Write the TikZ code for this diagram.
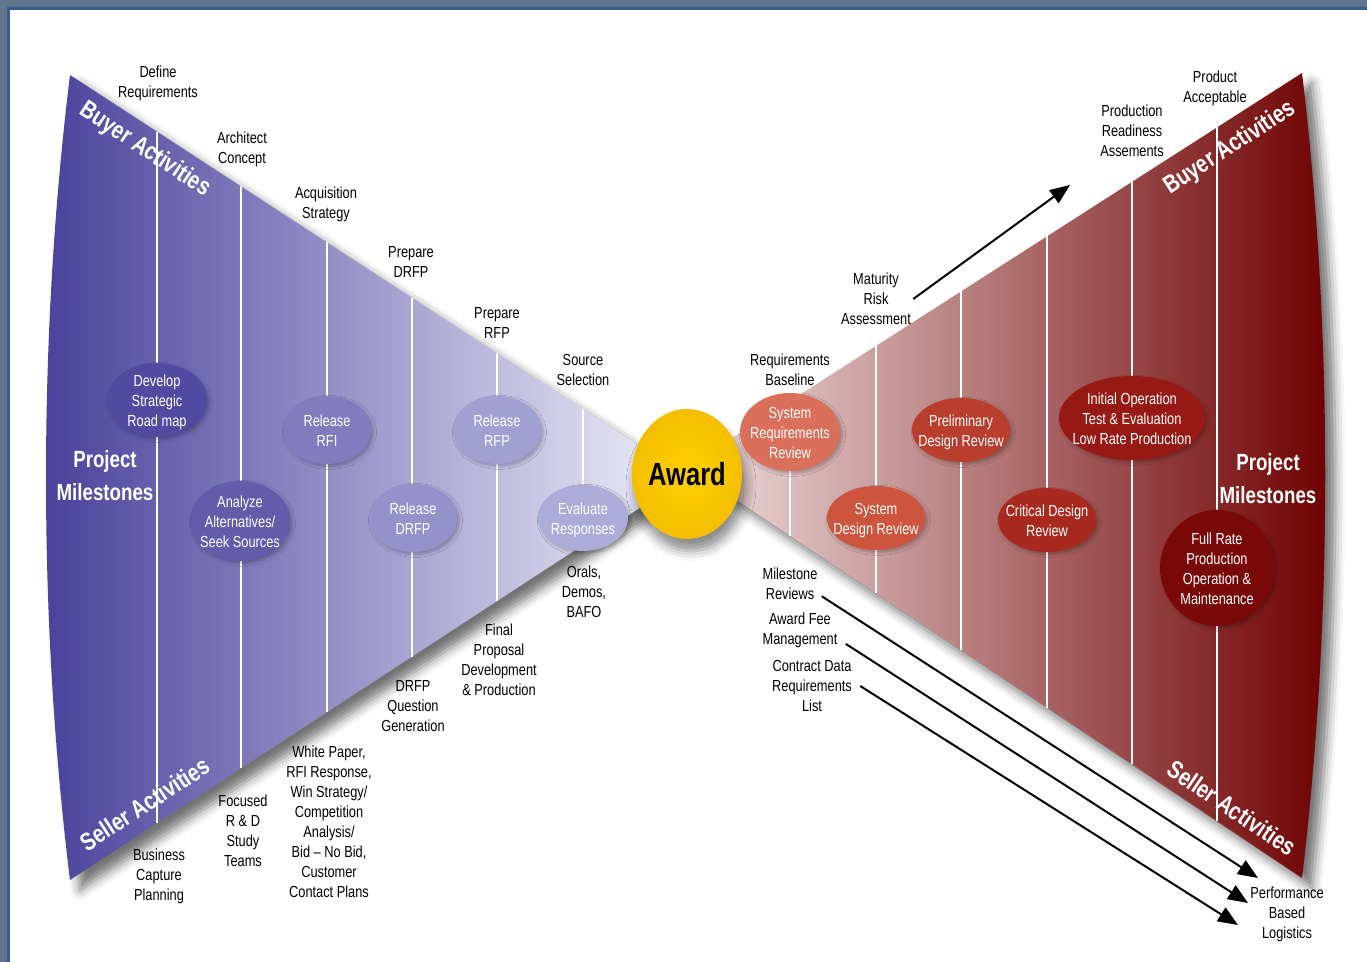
\documentclass[tikz,border=0pt]{standalone}
\usepackage{fontspec}
\setmainfont[FakeStretch=0.8]{Liberation Sans}
\usetikzlibrary{shapes.geometric,arrows.meta,shadows.blur}
\definecolor{framegrey}{RGB}{98,118,142}
\definecolor{frameblue}{RGB}{52,92,142}
\definecolor{bluedark}{RGB}{72,64,155}
\definecolor{bluelight}{RGB}{240,240,250}
\definecolor{reddark}{RGB}{110,0,0}
\definecolor{redlight}{RGB}{240,224,224}
\definecolor{devcol}{RGB}{80,74,160}
\definecolor{anacol}{RGB}{98,92,170}
\definecolor{rficol}{RGB}{128,124,190}
\definecolor{drfpcol}{RGB}{148,146,202}
\definecolor{rfpcol}{RGB}{160,160,210}
\definecolor{evalcol}{RGB}{172,172,216}
\definecolor{srrcol}{RGB}{218,112,92}
\definecolor{sdrcol}{RGB}{205,85,62}
\definecolor{pdrcol}{RGB}{185,62,45}
\definecolor{cdrcol}{RGB}{168,42,30}
\definecolor{iotcol}{RGB}{150,25,20}
\definecolor{frpcol}{RGB}{122,8,8}
\definecolor{awardyellow}{RGB}{255,208,0}
\definecolor{awardedge}{RGB}{244,190,0}
\newcommand\mstxt[1]{\smash{\makebox[0pt]{\raisebox{-3.5pt}{\begin{tabular}{@{}c@{}}#1\end{tabular}}}}}
\tikzset{
  wing/.style={blur shadow={shadow xshift=5pt,shadow yshift=-5pt,shadow blur radius=5pt,shadow opacity=55}},
  sep/.style={white,line width=1pt},
  ms/.style={ellipse,inner sep=0pt,text=white,font=\fontsize{8}{10}\selectfont,
    blur shadow={shadow xshift=1.2pt,shadow yshift=-1.2pt,shadow blur radius=1.5pt,shadow opacity=25}},
  lbl/.style={align=center,inner sep=0pt,font=\fontsize{8}{10}\selectfont},
  act/.style={text=white,inner sep=0pt,font=\bfseries\fontsize{12.5}{14}\selectfont},
  pm/.style={text=white,align=center,inner sep=0pt,font=\bfseries\fontsize{11.7}{16.5}\selectfont},
  arr/.style={black,line width=1pt,-{Triangle[length=10pt,width=8pt]}}
}
\begin{document}
\begin{tikzpicture}[x=0.5pt,y=-0.5pt]
    \useasboundingbox (0,0) rectangle (1367,962);
    % frame
    \fill[framegrey] (0,0) rectangle (1367,9);
    \fill[framegrey] (0,0) rectangle (9,962);
    \draw[frameblue,line width=1.5pt] (1367,8.5) -- (8.5,8.5) -- (8.5,962);
    % the two wings
    \path[wing,left color=bluedark,right color=bluelight]
      (70,75) -- (687,477) -- (70,880) .. controls (38,620) and (38,335) .. (70,75) -- cycle;
    \path[wing,left color=redlight,right color=reddark]
      (1302,73) -- (687,467) -- (1302,878) .. controls (1333,620) and (1333,330) .. (1302,73) -- cycle;
    % phase lines
    \foreach \x in {157,241,327,412,497,583}
      \draw[sep] (\x,{75+0.6515*(\x-70)}) -- (\x,{880-0.6532*(\x-70)});
    \foreach \x in {790,876,961,1047,1132,1217}
      \draw[sep] (\x,{73+0.6407*(1302-\x)}) -- (\x,{878-0.6683*(1302-\x)});
    % activity texts
    \node[act,rotate=-33.5] (buyl) at (145,150) {Buyer Activities};
    \node[act,rotate=33] (sell) at (145,804) {Seller Activities};
    \node[act,rotate=33] (buyr) at (1230,148) {Buyer Activities};
    \node[act,rotate=-34] (selr) at (1232,808) {Seller Activities};
    \node[pm] (pml) at (105,476) {Project\\Milestones};
    \node[pm] (pmr) at (1268,479) {Project\\Milestones};
    % milestones, buyer side
    \node[ms,fill=devcol,minimum width=50pt,minimum height=37pt] (dev) at (157,400) {\mstxt{Develop\\Strategic\\Road map}};
    \node[ms,fill=anacol,minimum width=50pt,minimum height=40pt] (ana) at (240,521) {\mstxt{Analyze\\Alternatives/\\Seek Sources}};
    \node[ms,fill=rficol,minimum width=44pt,minimum height=34pt] (rfi) at (327,430) {\mstxt{Release\\RFI}};
    \node[ms,fill=drfpcol,minimum width=44pt,minimum height=34pt] (drfp) at (413,518) {\mstxt{Release\\DRFP}};
    \node[ms,fill=rfpcol,minimum width=44pt,minimum height=34pt] (rfp) at (497,430) {\mstxt{Release\\RFP}};
    \node[ms,fill=evalcol,minimum width=45pt,minimum height=33pt] (eval) at (583,518) {\mstxt{Evaluate\\Responses}};
    % award
    \node[ellipse,inner color=awardyellow,outer color=awardedge,minimum width=50pt,minimum height=65pt,inner sep=0pt,
      blur shadow={shadow xshift=2pt,shadow yshift=-6pt,shadow blur radius=5pt,shadow opacity=45},
      font=\bfseries\fontsize{16}{18}\selectfont] (award) at (687,474) {Award};
    % milestones, seller side
    \node[ms,fill=srrcol,minimum width=50pt,minimum height=39pt] (srr) at (790,432) {\mstxt{System\\Requirements\\Review}};
    \node[ms,fill=sdrcol,minimum width=49pt,minimum height=32pt] (sdr) at (876,518) {\mstxt{System\\Design Review}};
    \node[ms,fill=pdrcol,minimum width=49pt,minimum height=32pt] (pdr) at (961,430) {\mstxt{Preliminary\\Design Review}};
    \node[ms,fill=cdrcol,minimum width=49pt,minimum height=32pt] (cdr) at (1047,520) {\mstxt{Critical Design\\Review}};
    \node[ms,fill=iotcol,minimum width=73pt,minimum height=42pt] (iot) at (1132,418) {\mstxt{Initial Operation\\Test \& Evaluation\\Low Rate Production}};
    \node[ms,fill=frpcol,minimum width=57pt,minimum height=58pt] (frp) at (1217,568) {\mstxt{Full Rate\\Production\\Operation \&\\Maintenance}};
    % labels
    \node[lbl] (define) at (158,83) {Define\\Requirements};
    \node[lbl] (architect) at (242,149) {Architect\\Concept};
    \node[lbl] (acqstrat) at (326,204) {Acquisition\\Strategy};
    \node[lbl] (prepdrfp) at (411,262) {Prepare\\DRFP};
    \node[lbl] (preprfp) at (497,323) {Prepare\\RFP};
    \node[lbl] (srcsel) at (583,370) {Source\\Selection};
    \node[lbl] (business) at (159,876) {Business\\Capture\\Planning};
    \node[lbl] (focused) at (243,831) {Focused\\R \& D\\Study\\Teams};
    \node[lbl] (whitepaper) at (329,822) {White Paper,\\RFI Response,\\Win Strategy/\\Competition\\Analysis/\\Bid -- No Bid,\\Customer\\Contact Plans};
    \node[lbl] (drfpq) at (413,706) {DRFP\\Question\\Generation};
    \node[lbl] (finalprop) at (499,660) {Final\\Proposal\\Development\\\& Production};
    \node[lbl] (orals) at (584,592) {Orals,\\Demos,\\BAFO};
    \node[lbl] (reqbase) at (790,370) {Requirements\\Baseline};
    \node[lbl] (maturity) at (876,299) {Maturity\\Risk\\Assessment};
    \node[lbl] (prodready) at (1132,131) {Production\\Readiness\\Assements};
    \node[lbl] (prodacc) at (1215,88) {Product\\Acceptable};
    \node[lbl] (milestone) at (790,584) {Milestone\\Reviews};
    \node[lbl] (awardfee) at (800,630) {Award Fee\\Management};
    \node[lbl] (cdrl) at (812,686) {Contract Data\\Requirements\\List};
    \node[lbl] (pbl) at (1287,914) {Performance\\Based\\Logistics};
    % arrows
    \coordinate (matend) at (1070,185);
    \coordinate (pbla) at (1258,878);
    \coordinate (pblb) at (1248,903);
    \coordinate (pblc) at (1238,925);
    \draw[arr] ([xshift=1pt]maturity.east) -- (matend);
    \draw[arr] ([xshift=2pt,yshift=2pt]milestone.south east) -- (pbla);
    \draw[arr] ([xshift=4pt,yshift=2pt]awardfee.south east) -- (pblb);
    \draw[arr] ([xshift=4pt]cdrl.east) -- (pblc);
\end{tikzpicture}
\end{document}
